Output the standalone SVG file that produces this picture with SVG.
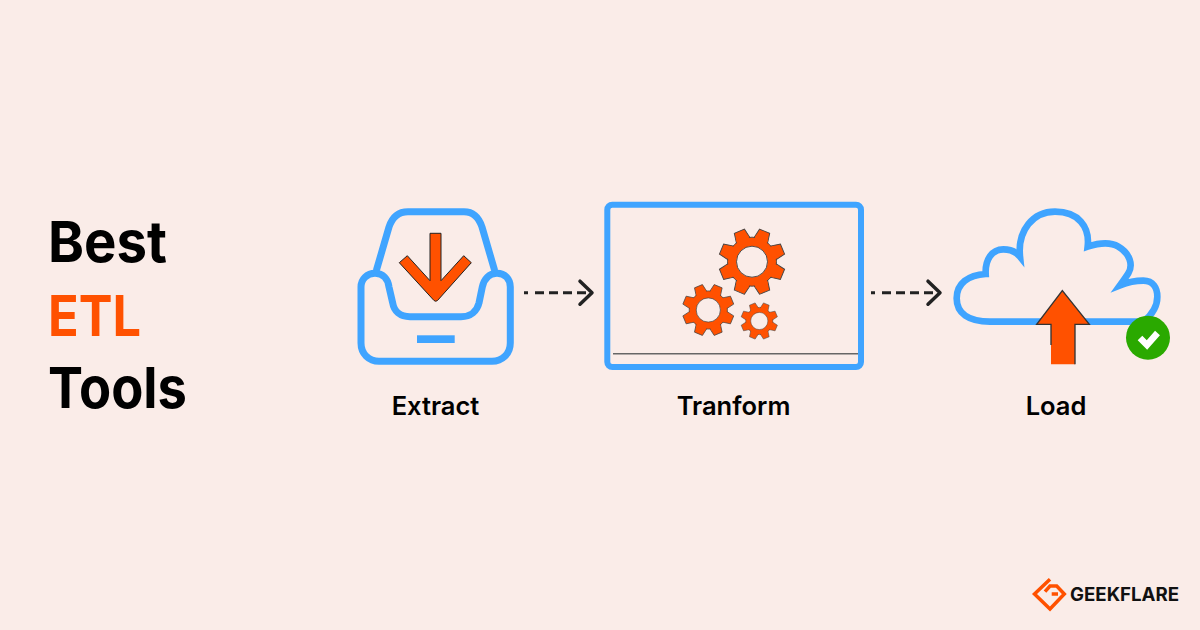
<svg xmlns="http://www.w3.org/2000/svg" width="1200" height="630" viewBox="0 0 1200 630">
<style>
.t{font-family:"Inter","Liberation Sans",sans-serif;font-weight:700;fill:#000}
.title{font-size:57px}
.label{font-size:25.500px;font-weight:600;text-anchor:middle}
.blue{fill:none;stroke:#3fa4ff;stroke-linejoin:round;stroke-linecap:round}
.or{fill:#ff5100}
.dash{fill:none;stroke:#222;stroke-width:3;stroke-dasharray:4 7 9 5 9 5 9 5 9 5 9}
</style>
<defs>
<marker id="chev" markerUnits="userSpaceOnUse" markerWidth="20" markerHeight="30" refX="16" refY="15" orient="auto"><path d="M4 3.500L16 15L4 26.500" fill="none" stroke="#222" stroke-width="3.500" stroke-linecap="round" stroke-linejoin="round"/></marker>
<polygon id="tooth" points="-5.500,-33 5.500,-33 7.500,-22 -7.500,-22" fill="#ff5100" stroke="#444" stroke-width=".9"/>
<g id="gear">
<use href="#tooth" transform="rotate(22.500)"/><use href="#tooth" transform="rotate(67.500)"/><use href="#tooth" transform="rotate(112.500)"/><use href="#tooth" transform="rotate(157.500)"/><use href="#tooth" transform="rotate(202.500)"/><use href="#tooth" transform="rotate(247.500)"/><use href="#tooth" transform="rotate(292.500)"/><use href="#tooth" transform="rotate(337.500)"/>
<circle r="24.500" fill="#ff5100" stroke="#444" stroke-width=".9"/>
<path fill="#ff5100" d="M-6.500-26H6.500V-20H-6.500Z" transform="rotate(22.500)"/><path fill="#ff5100" d="M-6.500-26H6.500V-20H-6.500Z" transform="rotate(67.500)"/><path fill="#ff5100" d="M-6.500-26H6.500V-20H-6.500Z" transform="rotate(112.500)"/><path fill="#ff5100" d="M-6.500-26H6.500V-20H-6.500Z" transform="rotate(157.500)"/><path fill="#ff5100" d="M-6.500-26H6.500V-20H-6.500Z" transform="rotate(202.500)"/><path fill="#ff5100" d="M-6.500-26H6.500V-20H-6.500Z" transform="rotate(247.500)"/><path fill="#ff5100" d="M-6.500-26H6.500V-20H-6.500Z" transform="rotate(292.500)"/><path fill="#ff5100" d="M-6.500-26H6.500V-20H-6.500Z" transform="rotate(337.500)"/>
<circle r="15.500" fill="#faece8" stroke="#444" stroke-width=".9"/>
</g>
</defs>
<rect width="1200" height="630" fill="#faece8"/>
<g id="title">
<text class="t title" x="48" y="262.300" textLength="119" lengthAdjust="spacingAndGlyphs">Best</text>
<text class="t title" x="48" y="336" textLength="93" lengthAdjust="spacingAndGlyphs" style="fill:#ff5100">ETL</text>
<text class="t title" x="48" y="408.300" textLength="139" lengthAdjust="spacingAndGlyphs">Tools</text>
</g>
<g id="connectors">
<line class="dash" x1="524" y1="292.700" x2="592" y2="292.700" marker-end="url(#chev)"/>
<line class="dash" x1="871" y1="292.700" x2="940" y2="292.700" marker-end="url(#chev)"/>
</g>
<g id="extract">
<path class="blue" stroke-width="7" d="M376.700 269.300L389 227Q394 211.700 408 211.700H464Q477 211.700 482 227L494.300 269.300"/>
<path class="blue" stroke-width="7" d="M361 343V287C361 279 367 273.300 375 273.300C383 273.300 388 279 389 287L392.700 303C394 311 400 316.700 410 316.700H461C471 316.700 477 311 479 303L482.300 287C484 279 489 273.300 497 273.300C505 273.300 510.300 279 510.300 287V343C510.300 354 502 361.300 492 361.300H379C369 361.300 361 354 361 343Z"/>
<rect x="417" y="335.300" width="37.700" height="7.700" fill="#3fa4ff"/>
<path class="or" stroke="#222" stroke-width="1" stroke-linejoin="round" d="M430 233.300H441V280.700L463.700 255.700L471.300 262.700L437.500 300.500Q435.700 302 434 300.500L399.300 262.700L407.300 255.700L430 280.700Z"/>
<text class="t label" x="435.500" y="415">Extract</text>
</g>
<g id="transform">
<rect x="607.300" y="204.700" width="253.700" height="162.300" rx="5" fill="none" stroke="#3fa4ff" stroke-width="6"/>
<line x1="613" y1="353.700" x2="858" y2="353.700" stroke="#666" stroke-width="1.500"/>
<use href="#gear" transform="translate(752 261.700)"/>
<use href="#gear" transform="translate(708.300 310) scale(.78)"/>
<use href="#gear" transform="translate(759.300 321) scale(.555)"/>
<text class="t label" x="733.500" y="415">Tranform</text>
</g>
<g id="load">
<g transform="translate(940 200) scale(.33333)">
<path class="blue" stroke-width="20" style="stroke-linecap:butt;stroke-linejoin:miter;stroke-miterlimit:12" d="M610 365H150C85 365 50 340 50 295C50 250 85 225 137 222C135 180 155 148 190 148C210 148 228 155 240 170C232 90 280 35 345 35C415 35 450 80 443 140C480 128 510 125 535 140C570 160 580 195 565 220C557 233 548 245 540 256C565 246 590 242 610 242C640 242 652 265 652 290C652 320 635 345 610 365"/>
<path class="or" d="M367 272L448 373H405V493H333V373H290Z"/>
<path fill="none" stroke="#333" stroke-width="4" d="M333 435V373H290L367 272L448 373H405V493"/>
</g>
<circle cx="1148" cy="337.700" r="22" fill="#2aa900"/>
<path d="M1140 338L1147 345L1157.500 333" fill="none" stroke="#fff" stroke-width="6.500"/>
<text class="t label" x="1056" y="415">Load</text>
</g>
<g id="logo">
<path d="M1050 579.300L1034.500 594L1050 609L1064.300 594L1056.700 586H1050L1045 591.700M1051.700 594H1058" fill="none" stroke="#ff5100" stroke-width="3.500"/>
<text class="t" x="1070" y="600.700" font-size="18.500" textLength="109" lengthAdjust="spacingAndGlyphs" style="fill:#111">GEEKFLARE</text>
</g>
</svg>
